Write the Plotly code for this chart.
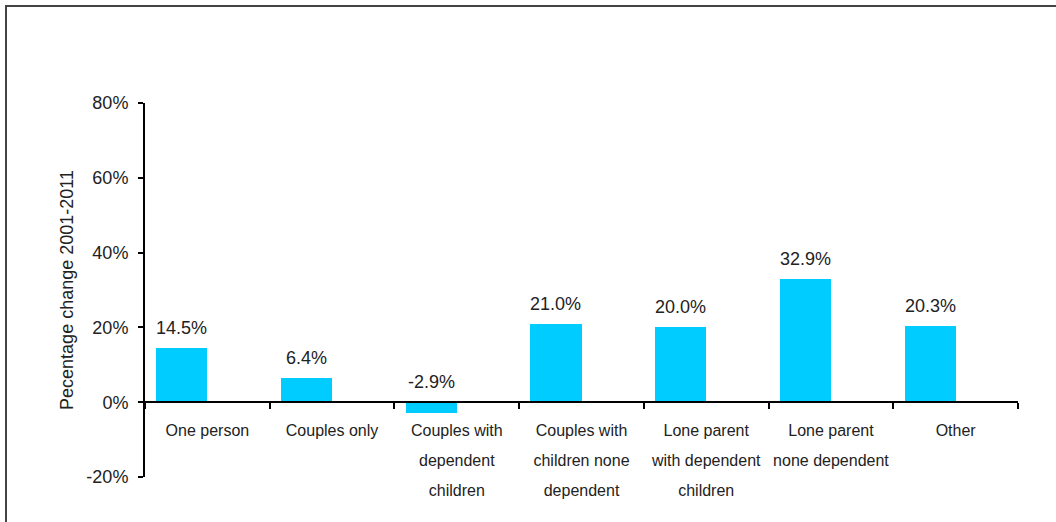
import plotly.graph_objects as go

categories = ["One person", "Couples only", "Couples with dependent children",
              "Couples with children none dependent", "Lone parent with dependent children",
              "Lone parent none dependent", "Other"]
label_line1 = ["One person", "Couples only", "Couples with", "Couples with",
               "Lone parent", "Lone parent", "Other"]
label_line2 = ["", "", "dependent", "children none", "with dependent", "none dependent", ""]
label_line3 = ["", "", "children", "dependent", "children", "", ""]
values = [14.5, 6.4, -2.9, 21.0, 20.0, 32.9, 20.3]
ytick_vals = [-20, 0, 20, 40, 60, 80]
ytick_text = ["-20%", "0%", "20%", "40%", "60%", "80%"]
y_title = "Pecentage change 2001-2011"

W, H = 1056, 522
ML, MR, MT, MB = 145, 38, 103, 45
PW, PH = W - ML - MR, H - MT - MB
FONT = "Liberation Sans, Arial, sans-serif"
TXT = "#222222"

ymin, ymax = -20, 80
zero_pos = (0 - ymin) / (ymax - ymin)
idx = list(range(len(categories)))

fig = go.Figure()
fig.add_trace(go.Bar(
    x=categories, y=values,
    marker=dict(color="#00CCFF", line=dict(width=0)),
    width=0.41, offset=-0.41,
    hoverinfo="skip", showlegend=False,
))
# invisible carriers so the extra label axes are drawn
for ax in ("x2", "x3"):
    fig.add_trace(go.Scatter(x=idx, y=[None] * len(idx), xaxis=ax, yaxis="y",
                             mode="markers", hoverinfo="skip", showlegend=False))

for i, v in enumerate(values):
    fig.add_annotation(
        x=i - 0.205, y=max(v, 0), xref="x", yref="y",
        text=f"{v:.1f}%", showarrow=False, yanchor="bottom", yshift=8,
        font=dict(family=FONT, size=18, color=TXT),
    )

common = dict(
    anchor="free", range=[-0.5, 6.5], showgrid=False, zeroline=False,
    ticks="outside", ticklen=6, tickwidth=2,
    tickfont=dict(family=FONT, size=16, color=TXT), ticklabelstandoff=14,
    fixedrange=True,
)

fig.update_layout(
    width=W, height=H,
    margin=dict(l=ML, r=MR, t=MT, b=MB, autoexpand=False),
    paper_bgcolor="white", plot_bgcolor="white",
    font=dict(family=FONT, color=TXT),
    bargap=0,
    xaxis=dict(
        type="category", categoryorder="array", categoryarray=categories,
        tickmode="array", tickvals=categories, ticktext=label_line1,
        tickson="boundaries", tickcolor="black",
        showline=True, linecolor="black", linewidth=2,
        position=zero_pos, **common,
    ),
    xaxis2=dict(
        type="linear", overlaying="x", tickmode="array",
        tickvals=idx, ticktext=label_line2,
        tickcolor="rgba(0,0,0,0)", showline=False,
        position=zero_pos - 24 / PH, **common,
    ),
    xaxis3=dict(
        type="linear", overlaying="x", tickmode="array",
        tickvals=idx, ticktext=label_line3,
        tickcolor="rgba(0,0,0,0)", showline=False,
        position=zero_pos - 54 / PH, **common,
    ),
    yaxis=dict(
        range=[ymin, ymax], tickmode="array", tickvals=ytick_vals, ticktext=ytick_text,
        ticks="outside", ticklen=5, tickwidth=2, tickcolor="black",
        showline=True, linecolor="black", linewidth=2,
        showgrid=False, zeroline=False,
        tickfont=dict(family=FONT, size=18, color=TXT), ticklabelstandoff=6,
        title=dict(text=y_title, font=dict(family=FONT, size=18, color=TXT), standoff=8),
        fixedrange=True,
    ),
    shapes=[dict(
        type="rect", xref="paper", yref="paper",
        x0=(6 - ML) / PW, x1=(W + 10 - ML) / PW,
        y0=-(MB + 10) / PH, y1=(PH + MT - 6) / PH,
        line=dict(color="#444444", width=2), fillcolor="rgba(0,0,0,0)", layer="below",
    )],
)

fig.write_html("out.html")
